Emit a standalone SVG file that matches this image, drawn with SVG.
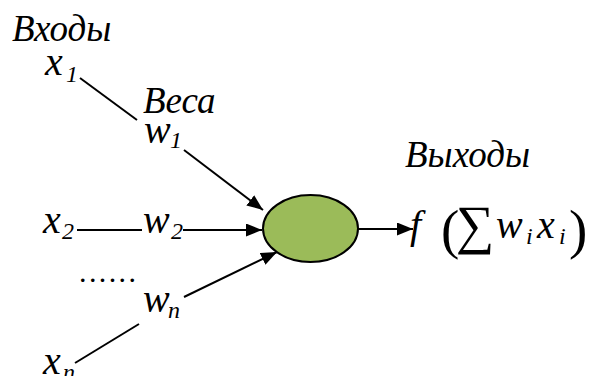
<svg xmlns="http://www.w3.org/2000/svg" width="590" height="376" viewBox="0 0 590 376">
<defs>
<marker id="ah" markerUnits="userSpaceOnUse" markerWidth="17" markerHeight="13" refX="16" refY="6.5" orient="auto">
<path d="M0,0 L16,6.5 L0,13 z" fill="#000"/>
</marker>
</defs>
<rect width="590" height="376" fill="#fff"/>
<g id="connectors" stroke="#000" stroke-width="2" fill="none">
<line x1="80" y1="78" x2="137" y2="120"/>
<line x1="184" y1="150" x2="263" y2="210" marker-end="url(#ah)"/>
<line x1="77" y1="230" x2="142" y2="230"/>
<line x1="183" y1="230" x2="262" y2="230" marker-end="url(#ah)"/>
<line x1="184" y1="297" x2="277" y2="252" marker-end="url(#ah)"/>
<line x1="75" y1="363" x2="139" y2="324"/>
<line x1="358" y1="229" x2="413" y2="229" marker-end="url(#ah)"/>
</g>
<g id="labels">
<text font-family="Liberation Serif" font-style="italic" font-size="37" x="12" y="41">Входы</text>
<text font-family="Liberation Serif" font-style="italic" font-size="37" x="143" y="113">Веса</text>
<text font-family="Liberation Serif" font-style="italic" font-size="37" x="405" y="167">Выходы</text>
<text font-family="Liberation Serif" font-size="30" x="79" y="282" textLength="57" lengthAdjust="spacing">......</text>
</g>
<g id="x1"><text font-family="Liberation Serif" font-style="italic" font-size="40" x="45" y="75">x</text><text font-family="Liberation Serif" font-style="italic" font-size="24" x="66" y="82">1</text></g>
<g id="w1"><text font-family="Liberation Serif" font-style="italic" font-size="40" x="144" y="143">w</text><text font-family="Liberation Serif" font-style="italic" font-size="24" x="170" y="148">1</text></g>
<g id="x2"><text font-family="Liberation Serif" font-style="italic" font-size="40" x="43" y="233">x</text><text font-family="Liberation Serif" font-style="italic" font-size="24" x="62" y="239">2</text></g>
<g id="w2"><text font-family="Liberation Serif" font-style="italic" font-size="40" x="143" y="233">w</text><text font-family="Liberation Serif" font-style="italic" font-size="24" x="171" y="239">2</text></g>
<g id="wn"><text font-family="Liberation Serif" font-style="italic" font-size="40" x="143" y="312">w</text><text font-family="Liberation Serif" font-style="italic" font-size="24" x="168" y="318">n</text></g>
<g id="xn"><text font-family="Liberation Serif" font-style="italic" font-size="40" x="43" y="374">x</text><text font-family="Liberation Serif" font-style="italic" font-size="24" x="63" y="380">n</text></g>
<g id="neuron"><ellipse cx="310.5" cy="228.5" rx="47.5" ry="33.5" fill="#9BBB59" stroke="#000" stroke-width="2"/></g>
<g id="output">
<text font-family="Liberation Serif" font-style="italic" font-size="40" x="410" y="238">f</text>
<text font-family="Liberation Serif" font-size="55" x="441" y="248">(</text>
<text font-family="Liberation Serif" font-size="54" x="456" y="243">∑</text>
<text font-family="Liberation Serif" font-style="italic" font-size="40" x="496" y="238">w</text>
<text font-family="Liberation Serif" font-style="italic" font-size="24" x="526" y="244">i</text>
<text font-family="Liberation Serif" font-style="italic" font-size="40" x="537" y="238">x</text>
<text font-family="Liberation Serif" font-style="italic" font-size="24" x="559" y="244">i</text>
<text font-family="Liberation Serif" font-size="55" x="569" y="248">)</text>
</g>
</svg>
